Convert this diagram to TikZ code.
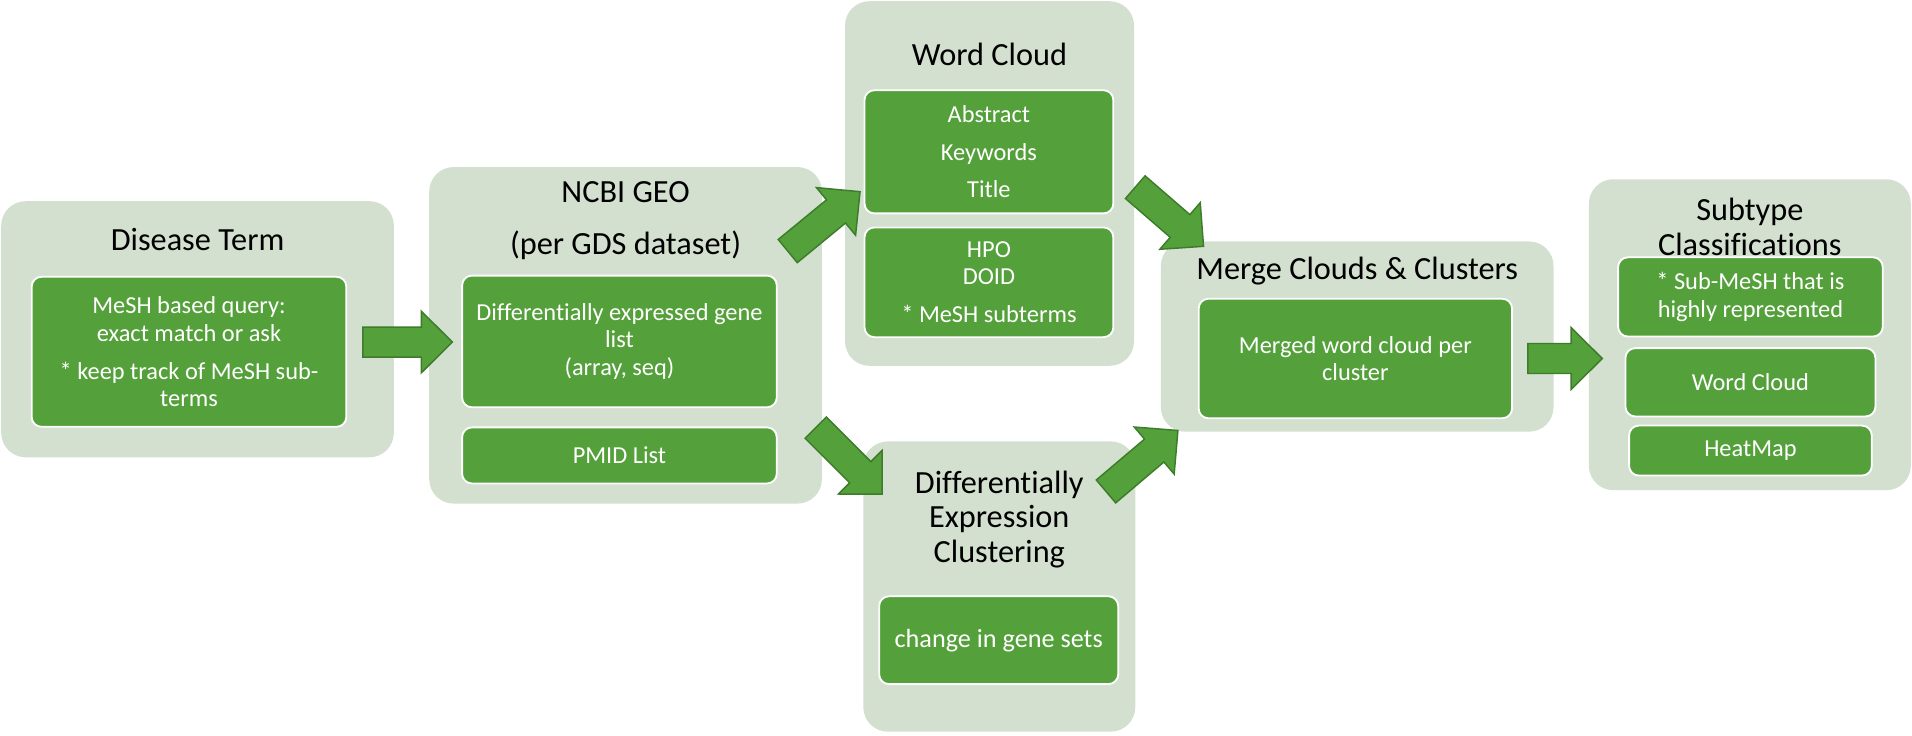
\documentclass[tikz,border=0pt]{standalone}
\usepackage{fontspec}
\setmainfont{Carlito}[RawFeature={-liga;-clig;-rlig;-dlig;-calt}]
\usetikzlibrary{positioning,calc}
\definecolor{panelgreen}{HTML}{D3E0CF}
\definecolor{boxgreen}{HTML}{54A03A}
\definecolor{edgegreen}{HTML}{3D7C2A}
\tikzstyle{panel} = [fill=panelgreen, rounded corners=20pt, inner sep=0pt]
\tikzstyle{heading} = [align=center, inner sep=0pt, font=\fontsize{26.5}{28.5}\selectfont]
\tikzstyle{entry} = [fill=boxgreen, draw=white, line width=1.5pt, rounded corners=8pt, text=white, align=center, inner sep=2pt, font=\fontsize{20}{22.5}\selectfont]
\tikzset{barrow/.style={fill=boxgreen, draw=edgegreen, line width=1.2pt, line join=miter}}
% block arrow from #1 (tail) to #2 (tip)
\newcommand{\barrow}[2]{
    \coordinate (hb) at ($(#2)!25.5pt!(#1)$);
    \draw [barrow] ($(#1)!12.3pt!90:(#2)$) -- ($(hb)!12.3pt!90:(#2)$) -- ($(hb)!25.3pt!90:(#2)$) -- (#2)
        -- ($(hb)!25.3pt!-90:(#2)$) -- ($(hb)!12.3pt!-90:(#2)$) -- ($(#1)!12.3pt!-90:(#2)$) -- cycle;
}

\begin{document}
\begin{tikzpicture}[x=1pt, y=-1pt]
    \useasboundingbox (0,0) rectangle (1568,603);

    % panels
    \node [panel, minimum width=322pt, minimum height=210pt] (disease) at (162,270) {};
    \node [panel, minimum width=322pt, minimum height=276pt] (ncbi) at (513,275) {};
    \node [panel, minimum width=237pt, minimum height=299pt] (wcloud) at (811.5,150.5) {};
    \node [panel, minimum width=223pt, minimum height=238pt] (dexp) at (819.5,481) {};
    \node [panel, minimum width=322pt, minimum height=156pt] (merge) at (1113,276) {};
    \node [panel, minimum width=264pt, minimum height=255pt] (subtype) at (1435,274.5) {};

    % headings
    \node [heading] (distitle) at (162,196) {Disease Term};
    \node [heading] (ncbititle) at (513,181) {NCBI GEO\\[14.5pt](per GDS dataset)};
    \node [heading] (wctitle) at (811.5,45) {Word Cloud};
    \node [heading] (dextitle) at (819.5,426) {Differentially\\Expression\\Clustering};
    \node [heading] (mergetitle) at (1113,222) {Merge Clouds \& Clusters};
    \node [heading] (subtitle) at (1435,186) {Subtype\\Classifications};

    % entries
    \node [entry, minimum width=258pt, minimum height=123pt] (query) at (155,288.5)
        {MeSH based query:\\exact match or ask\\[8.5pt]* keep track of MeSH sub-\\terms};
    \node [entry, minimum width=258pt, minimum height=108pt] (degenes) at (508,280)
        {Differentially expressed gene\\list\\(array, seq)};
    \node [entry, minimum width=258pt, minimum height=46pt, below=15pt of degenes] (pmid) {PMID List};
    \node [entry, minimum width=204pt, minimum height=101pt] (fields) at (811,124.5)
        {Abstract\\[8.5pt]Keywords\\[8.5pt]Title};
    \node [entry, minimum width=204pt, minimum height=90pt, below=10pt of fields] (onto)
        {HPO\\DOID\\[8.5pt]* MeSH subterms};
    \node [entry, minimum width=196pt, minimum height=72pt, font=\fontsize{21.5}{24}\selectfont] (genesets) at (819,525)
        {change in gene sets};
    \node [entry, minimum width=257pt, minimum height=98pt] (merged) at (1111.5,294)
        {Merged word cloud per\\cluster};
    \node [entry, minimum width=217pt, minimum height=65pt] (submesh) at (1435.5,243.5)
        {* Sub-MeSH that is\\highly represented};
    \node [entry, minimum width=205pt, minimum height=56pt, below=8pt of submesh] (stcloud) {Word Cloud};
    \node [entry, minimum width=199pt, minimum height=41pt, below=6pt of stcloud] (heatmap) {HeatMap};

    % arrow ends
    \coordinate (a1s) at (297.5,280.5);
    \coordinate (a1e) at (371,280.5);
    \coordinate (a2s) at (646,205.9);
    \coordinate (a2e) at (705.3,157.2);
    \coordinate (a3s) at (931,153.5);
    \coordinate (a3e) at (987,202);
    \coordinate (a4s) at (669,350.7);
    \coordinate (a4e) at (723.5,405.3);
    \coordinate (a5s) at (907,403);
    \coordinate (a5e) at (966,353);
    \coordinate (a6s) at (1253,294);
    \coordinate (a6e) at (1314,294);

    \barrow{a1s}{a1e}
    \barrow{a2s}{a2e}
    \barrow{a3s}{a3e}
    \barrow{a4s}{a4e}
    \barrow{a5s}{a5e}
    \barrow{a6s}{a6e}
\end{tikzpicture}
\end{document}
